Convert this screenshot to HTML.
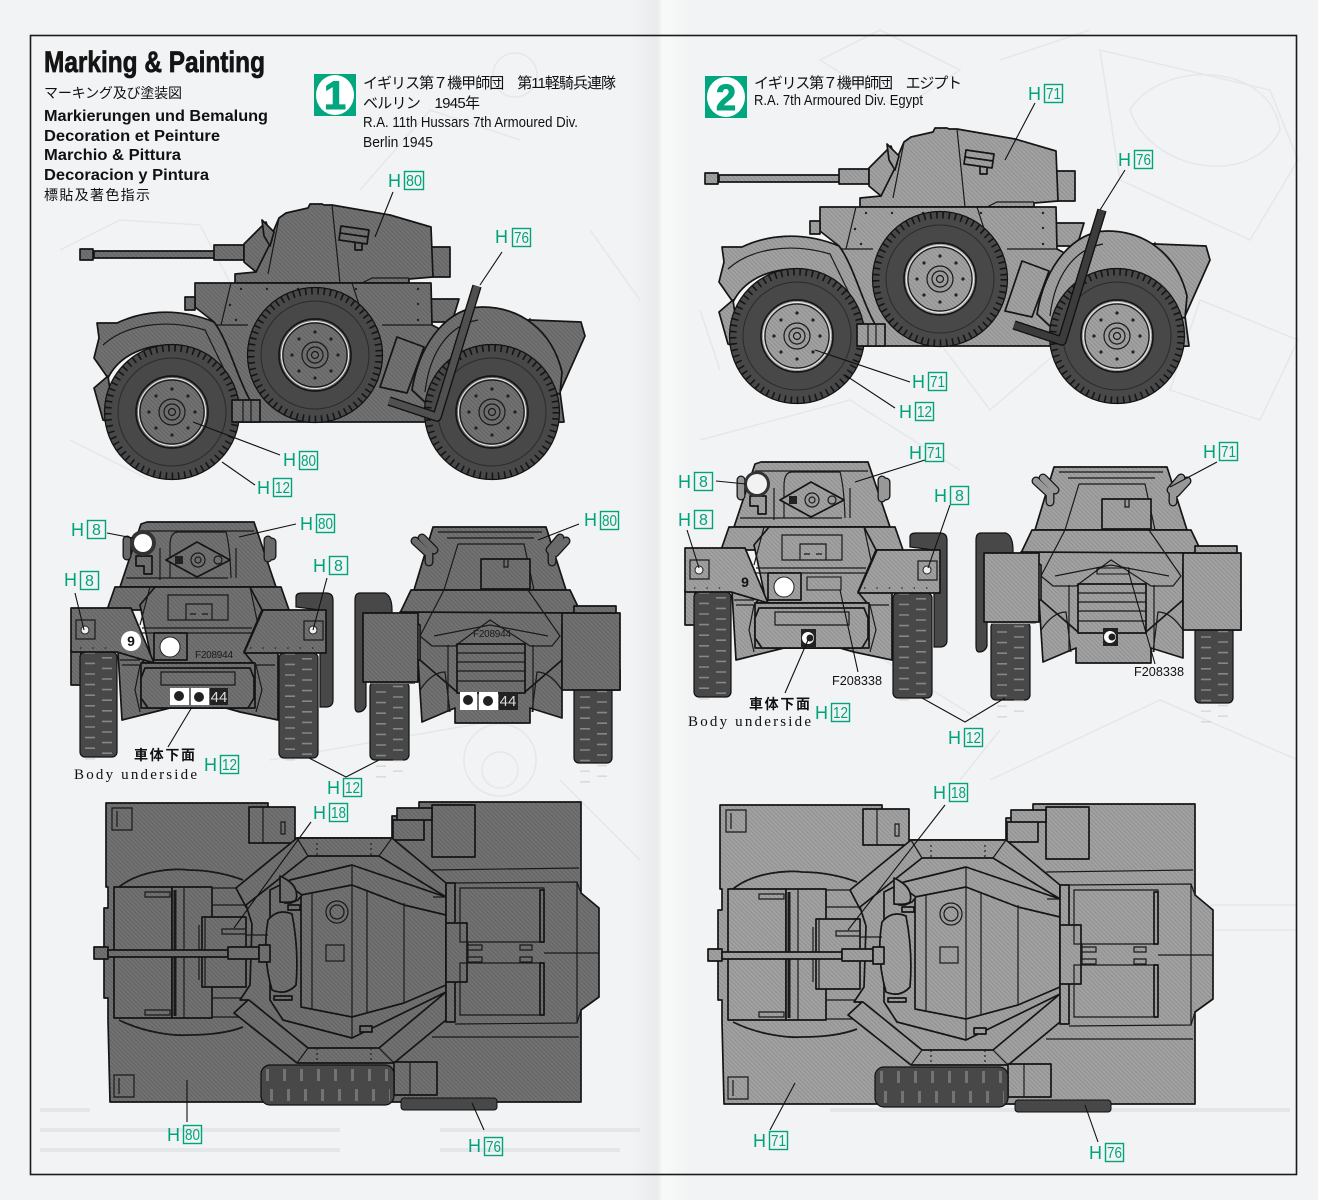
<!DOCTYPE html>
<html><head><meta charset="utf-8"><style>
html,body{margin:0;padding:0;background:#f2f3f4}
svg{display:block}
.b{fill:var(--b);stroke:#151515;stroke-width:1.7;stroke-linejoin:round}
.t{fill:var(--t);stroke:#111;stroke-width:1.2}
.l{fill:none;stroke:#1a1a1a;stroke-width:1.2}
.k{fill:none;stroke:#111;stroke-width:1.1}
.g{fill:none;stroke:#e3e8ec;stroke-width:1.5}
.h{font:18px "Liberation Sans",sans-serif;fill:#00a37c}
.n{font:16px "Liberation Sans",sans-serif;fill:#00a37c}
.bx{fill:none;stroke:#00a37c;stroke-width:1.4}
.j{font:15px "Liberation Sans","Noto Sans CJK JP",sans-serif;fill:#111}
.m{font:bold 15.5px "Liberation Sans",sans-serif;fill:#111}
.c{font:15px "Liberation Sans",sans-serif;fill:#111}
.s{font:15px "Liberation Serif",serif;fill:#111}
.f{font:10px "Liberation Sans",sans-serif;fill:#1a1a1a}
.cap{fill:none;stroke:#151515;stroke-width:9;stroke-linecap:round}
.cp2{fill:none;stroke:var(--c);stroke-width:6.4;stroke-linecap:round}
</style></head><body>
<svg xmlns="http://www.w3.org/2000/svg" xmlns:xlink="http://www.w3.org/1999/xlink" width="1318" height="1200" viewBox="0 0 1318 1200">
<defs>
<pattern id="hl" width="3" height="3" patternUnits="userSpaceOnUse" patternTransform="rotate(45)"><rect width="3" height="3" fill="#727272"/><rect width="3" height="1" fill="#636363"/></pattern>
<pattern id="hr" width="3" height="3" patternUnits="userSpaceOnUse" patternTransform="rotate(45)"><rect width="3" height="3" fill="#a2a2a2"/><rect width="3" height="1" fill="#8f8f8f"/></pattern>
<linearGradient id="fold" x1="0" x2="1" y1="0" y2="0"><stop offset="0" stop-color="#f2f3f4"/><stop offset=".45" stop-color="#e9ecee"/><stop offset=".55" stop-color="#f9f9f9"/><stop offset="1" stop-color="#f1f3f4"/></linearGradient>
<g id="wheel">
 <circle r="67.5" class="t"/>
 <circle r="64" fill="none" stroke="#151515" stroke-width="7" stroke-dasharray="1.6 4.6"/>
 <circle r="54" fill="none" stroke="#2a2a2a" stroke-width="1"/>
 <circle r="36" class="b"/>
 <circle r="33.5" fill="none" stroke="#eee" stroke-width="1"/>
 <circle r="32" class="l"/>
 <circle r="13" class="l"/><circle r="8" class="l"/><circle r="3.5" class="l"/>
 <g fill="#222"><circle cx="0" cy="-23" r="1.6"/><circle cx="16" cy="-16" r="1.6"/><circle cx="23" cy="0" r="1.6"/><circle cx="16" cy="16" r="1.6"/><circle cx="0" cy="23" r="1.6"/><circle cx="-16" cy="16" r="1.6"/><circle cx="-23" cy="0" r="1.6"/><circle cx="-16" cy="-16" r="1.6"/></g>
</g>
<g id="side">
 <!-- rear deck -->
 <path class="b" d="M480 318L581 322 585 336 560 392 564 422 520 424 470 340Z"/>
 <path class="l" d="M530 318V345"/>
 <path class="b" d="M431 299H459L452 322H431Z"/>
 <!-- turret -->
 <path class="b" d="M431 247H450V277H431Z"/>
 <path class="b" d="M235 283V274L256 272 279 218 286 213 308 208 310 204H322L324 205H332L390 215 431 227 433 277 409 279V283Z"/>
 <path class="l" d="M332 205L340 283M279 218L268 274M409 278H372L362 283"/>
 <path class="b" d="M341 226L369 230 367 244 339 240ZM340 233L368 237M355 243V250H362V244"/>
 <!-- gun -->
 <path class="b" d="M214 245H244V260H214ZM94 251H214V258H94Z"/>
 <path class="b" d="M80 249H93V260H80Z"/>
 <path class="b" d="M244 244L262 226 266 222 272 240 256 272 244 262Z"/>
 <path class="b" d="M262 220L274 232 270 246 264 236Z"/>
 <!-- hull -->
 <path class="b" d="M195 283H431L432 325 470 345 440 422H214V322L195 307Z"/>
 <path class="b" d="M185 297H195V310H185Z"/>
 <path class="l" d="M231 283L221 325M352 283L372 345M214 325H248M382 325H432"/>
 <g fill="#222"><circle cx="241" cy="289" r="1.2"/><circle cx="267" cy="289" r="1.2"/><circle cx="298" cy="289" r="1.2"/><circle cx="356" cy="289" r="1.2"/><circle cx="418" cy="289" r="1.2"/><circle cx="418" cy="304" r="1.2"/><circle cx="230" cy="305" r="1.2"/><circle cx="418" cy="320" r="1.2"/><circle cx="236" cy="320" r="1.2"/></g>
 <!-- front fender -->
 <path class="b" d="M97 323L117 323C140 312 175 306 214 322 228 340 238 380 250 400V420H232C224 380 200 346 172 345 140 345 118 358 108 378L94 358 99 338Z"/>
 <path class="b" d="M108 376L94 388 103 420 115 425Z"/>
 <path class="l" d="M103 345C125 325 165 318 205 330L239 400"/>
 <!-- rear fender -->
 <path class="b" d="M412 390C420 340 450 307 482 307 520 307 552 330 562 372L560 394 550 392C540 360 520 345 490 345 460 345 435 370 428 405Z"/>
 <path class="l" d="M425 392C430 350 450 325 478 320"/>
 <use xlink:href="#wheel" x="172" y="412"/>
 <use xlink:href="#wheel" x="492" y="412"/>
 <path class="b" d="M232 400H260V422H232Z"/>
 <path class="l" d="M243 400V422M251 400V422"/>
 <use xlink:href="#wheel" x="315" y="355"/>
 <!-- box and pole -->
 <path class="b" d="M397 337L424 347 407 393 380 387Z"/>
 <path d="M477 286L437 417 389 401" fill="none" stroke="#111" stroke-width="9.5" stroke-linejoin="round"/>
 <path d="M477 286L437 417 389 401" fill="none" stroke="var(--p)" stroke-width="6.8" stroke-linejoin="round"/>
</g>
<g id="tred">
 <path d="M0 0V110" fill="none" stroke="#c4c4c4" stroke-width="10" stroke-dasharray="1.6 9" opacity=".5"/>
 <path d="M17 5V110" fill="none" stroke="#c4c4c4" stroke-width="10" stroke-dasharray="1.6 9" opacity=".5"/>
</g>
<g id="front">
 <!-- spare -->
 <path class="t" d="M296 607V597Q296 593 302 593H326Q333 593 333 600V700Q333 707 326 707H320V610Z"/>
 <!-- axle -->
 <path class="b" d="M118 652H278V720L240 712 226 708H170L122 720Z"/>
 <rect class="b" x="71" y="650" width="10" height="35"/>
 <!-- tyres -->
 <rect class="t" x="80" y="652" width="37" height="105" rx="5"/>
 <use xlink:href="#tred" x="90" y="652"/>
 <rect class="t" x="279" y="653" width="39" height="105" rx="5"/>
 <use xlink:href="#tred" x="290" y="653"/>
 <!-- hull -->
 <path class="b" d="M120 587L141 524 147 522H254L276 587Z"/>
 <path class="b" d="M115 587H281L289 610H107Z"/>
 <path class="b" d="M140 605L155 587H250L262 610 244 652 253 663H142L150 652Z"/>
 <path class="l" d="M150 587L140 625M250 587L258 625M142 628H252M142 633H252"/>
 <path class="b" d="M71 608H131L154 663 117 652H71Z"/>
 <path class="b" d="M263 610H326V653H244Z"/>
 <path class="b" d="M141 663H255V708H141Z"/>
 <path class="b" d="M145 668H250L254 678V698L248 708H148L141 698V678Z"/>
 <path class="l" d="M161 672H235V685H161Z"/>
 <path class="l" d="M278 652V700"/>
 <path class="l" d="M122 665H140L135 690 140 712M275 665H256L262 690 256 712M120 660H140"/>
 <!-- upper panels -->
 <path class="l" d="M168 595H228V620H168ZM186 604H212V620H186ZM190 614H196M202 614H208"/>
 <path class="b" d="M154 633H187V660H154Z"/>
 <circle cx="170" cy="647" r="10" fill="#fff" stroke="#222"/>
 <!-- turret -->
 <path class="l" d="M170 578V546Q170 532 178 532H226Q230 546 231 578M141 531H254M142 540H150M228 578H126"/>
 <path class="b" d="M166 560L197 542 230 560 197 577Z"/>
 <circle cx="198" cy="560" r="7" class="l"/><circle cx="198" cy="560" r="3" class="l"/>
 <circle cx="218" cy="560" r="4" class="l"/><rect x="175" y="556" width="8" height="8" fill="#222"/>
 <path class="l" d="M160 548V580M236 548V578"/>
 <path class="cap" d="M127 540V556M268 540V558"/><path class="cap" d="M272 542V556"/>
 <path class="cp2" d="M127 540V556M268 540V558M272 542V556"/>
 <path class="b" d="M136 556H152V574H144V566H136Z"/>
 <rect x="76" y="620" width="19" height="19" class="l"/>
 <rect x="304" y="621" width="19" height="19" class="l"/>
 <circle cx="85" cy="630" r="4" fill="#eee" stroke="#222"/>
 <circle cx="313" cy="630" r="4" fill="#eee" stroke="#222"/>
 <path d="M80 648H112M250 648H320" fill="none" stroke="#222" stroke-width="1.3" stroke-dasharray="1.4 11"/>
</g>
<g id="rear">
 <path class="t" d="M358 712Q355 712 355 706V600Q355 593 360 593H385Q392 596 392 610V613H366V706Q364 712 358 712Z"/>
 <path class="b" d="M418 660H562V718L530 708V723H455V708L422 722Z"/>
 <rect class="b" x="608" y="670" width="12" height="20"/>
 <rect class="t" x="370" y="682" width="39" height="78" rx="5"/>
 <use xlink:href="#tred" x="381" y="670"/>
 <rect class="t" x="574" y="683" width="38" height="80" rx="5"/>
 <use xlink:href="#tred" x="585" y="675"/>
 <rect x="370" y="670" width="45" height="14" fill="var(--b)"/>
 <rect x="572" y="670" width="45" height="14" fill="var(--b)"/>
 <path class="b" d="M433 527H546L566 590H414Z"/>
 <path class="l" d="M438 532H542M447 538H534M458 544H524L534 590M458 544L444 590"/>
 <path class="b" d="M481 559H530V589H481Z"/>
 <path class="l" d="M504 559V567H508V559"/>
 <path class="b" d="M411 590H570L581 613H400Z"/>
 <path class="b" d="M400 612L420 625V660L457 692H525L562 660V625L581 613Z"/>
 <path class="l" d="M444 590L420 636 432 646H455L490 620 530 646H552L560 636 528 590"/>
 <path class="l" d="M434 636L490 625 548 636M448 645V712M533 645V712"/>
 <rect class="b" x="457" y="644" width="68" height="49"/>
 <path class="l" d="M457 653H525M457 662H525M457 671H525M457 681H525"/>
 <path class="l" d="M420 690Q432 672 445 672L450 712M562 690Q550 672 537 672L532 712"/>
 <rect class="b" x="363" y="613" width="55" height="69"/>
 <rect class="b" x="562" y="613" width="58" height="77"/>
 <rect class="b" x="574" y="606" width="42" height="7"/>
 <path class="cap" d="M415 541L428 553M422 538L434 550M429 553V562"/>
 <path class="cp2" d="M415 541L428 553M422 538L434 550M429 553V562"/>
 <path class="cap" d="M566 541L555 553M560 538L550 550M552 553V562"/>
 <path class="cp2" d="M566 541L555 553M560 538L550 550M552 553V562"/>
</g>
<g id="top">
 <path class="b" d="M106 803H268V838H392V816H419V802H581V893L599 908V997L581 1010V1102H110L108 1020V998H104V908H108V887H106Z"/>
 <path class="l" d="M432 870L579 868M455 883L577 882V1023L455 1024M432 1037H579M544 953H599M577 882L581 893M577 1023L581 1010"/>
 <path class="l" d="M112 808H132V830H112ZM114 1075H134V1097H114ZM117 811V827M119 1078V1094"/>
 <rect class="b" x="249" y="807" width="46" height="36"/>
 <path class="l" d="M263 807V843M281 822H285V834H281Z"/>
 <rect class="b" x="432" y="805" width="43" height="52"/>
 <path class="b" d="M393 820H424V840H393ZM397 808H432V820H397Z"/>
 <path d="M119 887C140 870 175 868 188 870 210 870 230 875 243 880M119 1020C145 1033 175 1036 188 1035 210 1035 230 1032 243 1027" fill="none" stroke="#1a1a1a" stroke-width="1.8"/>
 <!-- front section -->
 <rect class="b" x="114" y="887" width="58" height="131"/>
 <rect class="b" x="172" y="887" width="40" height="131"/>
 <path d="M175 890V1016" fill="none" stroke="#1a1a1a" stroke-width="3"/>
 <path class="l" d="M184 887V1018"/>
 <path class="l" d="M145 892H170V897H145ZM145 1010H170V1015H145ZM212 888H246V905H212ZM212 998H246V1017H212Z"/>
 <rect class="b" x="202" y="917" width="44" height="70"/>
 <path class="l" d="M199 925V980M205 917V987"/>
 <!-- ring -->
 <path class="b" d="M297 838H392L446 883V1020L394 1063H297L234 1013 248 1000 272 1005 282 1020V900L260 910 246 907 236 888Z"/>
 <path class="b" d="M308 856H379L446 897V992L379 1048H308L249 1000 240 1000 250 985 252 924 246 905Z"/>
 <path class="b" d="M290 880L352 865 446 897V992L352 1038 283 1020 270 1000V890Z"/>
 <path class="b" d="M301 895L352 885 404 905 446 915V985L404 1003 352 1017 301 1007Z"/>
 <path class="l" d="M312 893V1010M367 890V1012M404 903V1002M352 865V885M352 1017V1038M352 885V1017"/>
 <path class="l" d="M297 838L308 856M392 838L379 856M297 1063L308 1048M394 1063L379 1048M446 897H433"/>
 <path d="M317 843V856M371 843V856M317 1048V1062M371 1048V1062" fill="none" stroke="#222" stroke-width="1.2" stroke-dasharray="2 3"/>
 <path class="b" d="M283 887H291L302 895 298 900 291 903H285Z"/>
 <path class="b" d="M280 876Q300 885 296 900 292 903 280 902Z"/>
 <circle cx="337" cy="912" r="11" class="l"/><circle cx="337" cy="912" r="7" class="l"/>
 <rect x="326" y="945" width="18" height="16" class="l"/>
 <path class="b" d="M360 1026H372V1032H360ZM288 905H300V910H288ZM274 996H292V1000H274Z"/>
 <!-- hatch -->
 <path class="b" d="M268 920Q278 908 292 914 299 950 296 985 286 996 272 990 262 955 268 920Z"/>
 <!-- gun -->
 <rect class="b" x="94" y="947" width="14" height="12"/>
 <rect class="b" x="108" y="950" width="120" height="7"/>
 <rect class="b" x="228" y="947" width="31" height="12"/>
 <rect class="b" x="259" y="945" width="11" height="17"/>
 <path class="l" d="M222 929H246V934H222ZM246 935H268"/>
 <!-- rear -->
 <rect class="b" x="446" y="883" width="9" height="139"/>
 <rect class="b" x="446" y="923" width="21" height="59"/>
 <path class="l" d="M460 888H544V942H460ZM460 963H544V1015H460ZM468 942V953M468 953V963"/>
 <path class="b" d="M540 890H544V942H540ZM540 963H544V1015H540Z"/>
 <path class="l" d="M467 945H482V950H467ZM467 957H482V962H467ZM520 945H532V950H520ZM520 957H532V962H520Z"/>
 <!-- exhaust -->
 <rect x="401" y="1098" width="96" height="12" rx="3" fill="var(--t)" stroke="#111"/>
 <!-- spare -->
 <path class="b" d="M394 1062H437V1095H394Z"/>
 <path class="l" d="M410 1062V1095"/>
 <rect x="261" y="1065" width="133" height="40" rx="9" class="t"/>
 <path d="M266 1075H390" fill="none" stroke="#a8a8a8" stroke-width="12" stroke-dasharray="3 14" opacity=".45"/>
 <path d="M270 1095H390" fill="none" stroke="#a8a8a8" stroke-width="12" stroke-dasharray="3 14" opacity=".45"/>
</g>
</defs>

<rect width="1318" height="1200" fill="#f2f3f4"/>
<rect x="630" width="60" height="1200" fill="url(#fold)"/>

<!-- faint background sketches -->
<path class="g" d="M60 250L120 220 200 225 260 340M70 440L150 480M270 760L500 720M360 190L430 110 520 140M590 230L640 300"/>
<circle class="g" cx="500" cy="760" r="36"/><circle class="g" cx="500" cy="770" r="18"/><circle class="g" cx="515" cy="75" r="22"/>
<path class="g" d="M1100 50L1270 90 1298 160 1250 240 1120 180ZM1130 110C1160 60 1270 60 1280 130 1250 190 1150 170 1130 110ZM1200 300L1298 340 1260 420 1170 390ZM1000 260L1060 350 990 410 930 330ZM700 440L850 400 960 470M720 370L700 310M1000 60L1090 30M990 780L1160 700 1298 760M820 620L980 720M960 780L1000 730M560 780L640 860M1210 905H1298M1215 930H1298"/>
<path class="g" d="M820 60L880 30 960 70 900 110Z"/>
<g fill="none" stroke="#e4e7ea" stroke-width="4"><path d="M40 1110H90M40 1130H340M40 1150H340M440 1130H640M440 1150H620M830 1110H1290"/></g>

<rect x="30.5" y="35.5" width="1266" height="1139" fill="none" stroke="#1a1a1a" stroke-width="1.6"/>

<!-- headings -->
<text x="44" y="72" font-family="Liberation Sans,sans-serif" font-weight="bold" font-size="30" fill="#141414" stroke="#141414" stroke-width=".7" textLength="221" lengthAdjust="spacingAndGlyphs">Marking &amp; Painting</text>
<text x="44" y="98" class="j" style="font-size:14px" textLength="138">マーキング及び塗装図</text>
<text x="44" y="121" class="m" textLength="224" lengthAdjust="spacingAndGlyphs">Markierungen und Bemalung</text>
<text x="44" y="141" class="m" textLength="176" lengthAdjust="spacingAndGlyphs">Decoration et Peinture</text>
<text x="44" y="160" class="m" textLength="137" lengthAdjust="spacingAndGlyphs">Marchio &amp; Pittura</text>
<text x="44" y="180" class="m" textLength="165" lengthAdjust="spacingAndGlyphs">Decoracion y Pintura</text>
<text x="44" y="200" class="j" style="font-size:14px" textLength="106">標貼及著色指示</text>

<rect x="314" y="74" width="42" height="42" fill="#00a67e"/>
<ellipse cx="335" cy="95" rx="19" ry="20" fill="#fff"/>
<text x="335" y="109" text-anchor="middle" font-family="Liberation Sans,sans-serif" font-weight="bold" font-size="40" fill="#00a67e" stroke="#00a67e">1</text>
<text x="363" y="88" class="j" textLength="253">イギリス第７機甲師団　第11軽騎兵連隊</text>
<text x="363" y="108" class="j" textLength="117">ベルリン　1945年</text>
<text x="363" y="127" class="c" textLength="215" lengthAdjust="spacingAndGlyphs">R.A. 11th Hussars 7th Armoured Div.</text>
<text x="363" y="147" class="c" textLength="70" lengthAdjust="spacingAndGlyphs">Berlin 1945</text>

<rect x="705" y="76" width="42" height="42" fill="#00a67e"/>
<ellipse cx="726" cy="97" rx="19" ry="20" fill="#fff"/>
<text x="726" y="110" text-anchor="middle" font-family="Liberation Sans,sans-serif" font-weight="bold" font-size="36" fill="#00a67e" stroke="#00a67e">2</text>
<text x="754" y="88" class="j" textLength="208">イギリス第７機甲師団　エジプト</text>
<text x="754" y="105" class="c" textLength="169" lengthAdjust="spacingAndGlyphs">R.A. 7th Armoured Div. Egypt</text>

<!-- vehicles: left -->
<g style="--b:url(#hl);--c:#6a6a6a;--t:#484848;--p:#505050">
 <use xlink:href="#side"/>
 <use xlink:href="#front"/>
 <use xlink:href="#rear"/>
 <use xlink:href="#top"/>
</g>
<!-- vehicles: right -->
<g style="--b:url(#hr);--c:#989898;--t:#484848;--p:#3c3c3c">
 <use xlink:href="#side" x="625" y="-76"/>
 <use xlink:href="#front" x="614" y="-60"/>
 <use xlink:href="#rear" x="621" y="-60"/>
 <use xlink:href="#top" x="614" y="2"/>
</g>

<!-- decals left front -->
<circle cx="143" cy="543" r="13" fill="#333"/><circle cx="143" cy="543" r="9" fill="#fff"/>
<circle cx="131" cy="641" r="10" fill="#fff"/><text x="131" y="646" text-anchor="middle" font-family="Liberation Sans,sans-serif" font-weight="bold" font-size="14" fill="#111">9</text>
<text x="195" y="658" class="f" textLength="38">F208944</text>
<rect x="170" y="688" width="19" height="17" fill="#fff"/><circle cx="179" cy="696" r="5" fill="#222"/>
<rect x="191" y="688" width="18" height="17" fill="#fff"/><circle cx="199" cy="697" r="5" fill="#222"/>
<rect x="210" y="688" width="18" height="17" fill="#222"/><text x="219" y="702" text-anchor="middle" font-family="Liberation Sans,sans-serif" font-size="15" fill="#ddd">44</text>
<text x="473" y="637" class="f" textLength="38">F208944</text>
<rect x="460" y="692" width="17" height="18" fill="#fff"/><circle cx="468" cy="700" r="5" fill="#222"/>
<rect x="479" y="692" width="19" height="18" fill="#fff"/><circle cx="488" cy="701" r="5" fill="#222"/>
<rect x="499" y="692" width="19" height="18" fill="#222"/><text x="508" y="706" text-anchor="middle" font-family="Liberation Sans,sans-serif" font-size="15" fill="#ddd">44</text>

<!-- decals right front -->
<circle cx="757" cy="484" r="13" fill="#333"/><circle cx="757" cy="484" r="10" fill="#f2f2f2"/>
<text x="745" y="587" text-anchor="middle" font-family="Liberation Sans,sans-serif" font-weight="bold" font-size="14" fill="#111">9</text>
<rect x="801" y="629" width="15" height="18" fill="#222"/><circle cx="808" cy="638" r="6" fill="#fff"/><circle cx="810" cy="638" r="3.5" fill="#222"/>
<rect x="1103" y="628" width="15" height="18" fill="#222"/><circle cx="1110" cy="637" r="6" fill="#fff"/><circle cx="1112" cy="637" r="3.5" fill="#222"/>
<path class="k" d="M807 577H841V590H807ZM1097 568H1129V574H1097Z"/>

<!-- side-view & other leaders -->
<path class="k" d="M393 192L375 237M502 252L480 285M193 422L280 455M222 462L255 485M107 533L133 538M296 524L239 537M327 578L313 630M75 593L84 630M579 524L538 540M192 707L168 747M309 758L346 777 379 760M311 822L234 928M187 1080V1122M472 1103L484 1130"/>
<path class="k" d="M1035 103L1005 160M1125 170L1100 210M815 350L910 382M845 375L895 408M925 460L855 482M1217 462L1170 487M716 481L746 484M950 505L928 568M687 530L699 568M858 672L840 590M1155 664L1128 570M808 640L785 693M922 698L965 722 1005 698M945 805L848 930M795 1083L770 1130M1085 1105L1098 1142"/>

<!-- captions -->
<text x="134" y="760" class="j" style="font-size:14px;font-weight:bold" textLength="61">車体下面</text>
<text x="74" y="779" class="s" textLength="123">Body underside</text>
<text x="749" y="709" class="j" style="font-size:14px;font-weight:bold" textLength="61">車体下面</text>
<text x="688" y="726" class="s" textLength="123">Body underside</text>
<text x="832" y="685" font-family="Liberation Sans,sans-serif" font-size="13" fill="#111" textLength="50" lengthAdjust="spacingAndGlyphs">F208338</text>
<text x="1134" y="676" font-family="Liberation Sans,sans-serif" font-size="13" fill="#111" textLength="50" lengthAdjust="spacingAndGlyphs">F208338</text>

<!-- paint labels -->
<g>
<text class="h" x="388" y="187">H</text><rect class="bx" x="404.5" y="171.5" width="19" height="18"/><text class="n" x="406" y="186" textLength="16" lengthAdjust="spacingAndGlyphs">80</text>
<text class="h" x="495" y="243">H</text><rect class="bx" x="512.5" y="228.5" width="18" height="18"/><text class="n" x="514" y="243" textLength="15" lengthAdjust="spacingAndGlyphs">76</text>
<text class="h" x="283" y="466">H</text><rect class="bx" x="299.5" y="451.5" width="18" height="18"/><text class="n" x="301" y="466" textLength="15" lengthAdjust="spacingAndGlyphs">80</text>
<text class="h" x="257" y="494">H</text><rect class="bx" x="273.5" y="478.5" width="18" height="18"/><text class="n" x="275" y="493" textLength="15" lengthAdjust="spacingAndGlyphs">12</text>
<text class="h" x="71" y="536">H</text><rect class="bx" x="87.5" y="520.5" width="18" height="18"/><text class="n" x="92" y="535">8</text>
<text class="h" x="300" y="530">H</text><rect class="bx" x="316.5" y="514.5" width="18" height="18"/><text class="n" x="318" y="529" textLength="15" lengthAdjust="spacingAndGlyphs">80</text>
<text class="h" x="313" y="572">H</text><rect class="bx" x="329.5" y="556.5" width="18" height="18"/><text class="n" x="334" y="571">8</text>
<text class="h" x="64" y="586">H</text><rect class="bx" x="80.5" y="571.5" width="18" height="18"/><text class="n" x="85" y="586">8</text>
<text class="h" x="584" y="526">H</text><rect class="bx" x="600.5" y="511.5" width="18" height="18"/><text class="n" x="602" y="526" textLength="15" lengthAdjust="spacingAndGlyphs">80</text>
<text class="h" x="204" y="771">H</text><rect class="bx" x="220.5" y="755.5" width="18" height="18"/><text class="n" x="222" y="770" textLength="15" lengthAdjust="spacingAndGlyphs">12</text>
<text class="h" x="327" y="794">H</text><rect class="bx" x="343.5" y="778.5" width="18" height="18"/><text class="n" x="345" y="793" textLength="15" lengthAdjust="spacingAndGlyphs">12</text>
<text class="h" x="313" y="819">H</text><rect class="bx" x="329.5" y="803.5" width="18" height="18"/><text class="n" x="331" y="818" textLength="15" lengthAdjust="spacingAndGlyphs">18</text>
<text class="h" x="167" y="1141">H</text><rect class="bx" x="183.5" y="1125.5" width="18" height="18"/><text class="n" x="185" y="1140" textLength="15" lengthAdjust="spacingAndGlyphs">80</text>
<text class="h" x="468" y="1152">H</text><rect class="bx" x="484.5" y="1137.5" width="18" height="18"/><text class="n" x="486" y="1152" textLength="15" lengthAdjust="spacingAndGlyphs">76</text>

<text class="h" x="1028" y="100">H</text><rect class="bx" x="1044.5" y="84.5" width="18" height="18"/><text class="n" x="1046" y="99" textLength="15" lengthAdjust="spacingAndGlyphs">71</text>
<text class="h" x="1118" y="166">H</text><rect class="bx" x="1134.5" y="150.5" width="18" height="18"/><text class="n" x="1136" y="165" textLength="15" lengthAdjust="spacingAndGlyphs">76</text>
<text class="h" x="912" y="388">H</text><rect class="bx" x="928.5" y="372.5" width="18" height="18"/><text class="n" x="930" y="387" textLength="15" lengthAdjust="spacingAndGlyphs">71</text>
<text class="h" x="899" y="418">H</text><rect class="bx" x="915.5" y="402.5" width="18" height="18"/><text class="n" x="917" y="417" textLength="15" lengthAdjust="spacingAndGlyphs">12</text>
<text class="h" x="909" y="459">H</text><rect class="bx" x="925.5" y="443.5" width="18" height="18"/><text class="n" x="927" y="458" textLength="15" lengthAdjust="spacingAndGlyphs">71</text>
<text class="h" x="1203" y="458">H</text><rect class="bx" x="1219.5" y="442.5" width="18" height="18"/><text class="n" x="1221" y="457" textLength="15" lengthAdjust="spacingAndGlyphs">71</text>
<text class="h" x="678" y="488">H</text><rect class="bx" x="694.5" y="472.5" width="18" height="18"/><text class="n" x="699" y="487">8</text>
<text class="h" x="934" y="502">H</text><rect class="bx" x="950.5" y="486.5" width="18" height="18"/><text class="n" x="955" y="501">8</text>
<text class="h" x="678" y="526">H</text><rect class="bx" x="694.5" y="510.5" width="18" height="18"/><text class="n" x="699" y="525">8</text>
<text class="h" x="815" y="719">H</text><rect class="bx" x="831.5" y="703.5" width="18" height="18"/><text class="n" x="833" y="718" textLength="15" lengthAdjust="spacingAndGlyphs">12</text>
<text class="h" x="948" y="744">H</text><rect class="bx" x="964.5" y="728.5" width="18" height="18"/><text class="n" x="966" y="743" textLength="15" lengthAdjust="spacingAndGlyphs">12</text>
<text class="h" x="933" y="799">H</text><rect class="bx" x="949.5" y="783.5" width="18" height="18"/><text class="n" x="951" y="798" textLength="15" lengthAdjust="spacingAndGlyphs">18</text>
<text class="h" x="753" y="1147">H</text><rect class="bx" x="769.5" y="1131.5" width="18" height="18"/><text class="n" x="771" y="1146" textLength="15" lengthAdjust="spacingAndGlyphs">71</text>
<text class="h" x="1089" y="1159">H</text><rect class="bx" x="1105.5" y="1143.5" width="18" height="18"/><text class="n" x="1107" y="1158" textLength="15" lengthAdjust="spacingAndGlyphs">76</text>
</g>
</svg>
</body></html>
